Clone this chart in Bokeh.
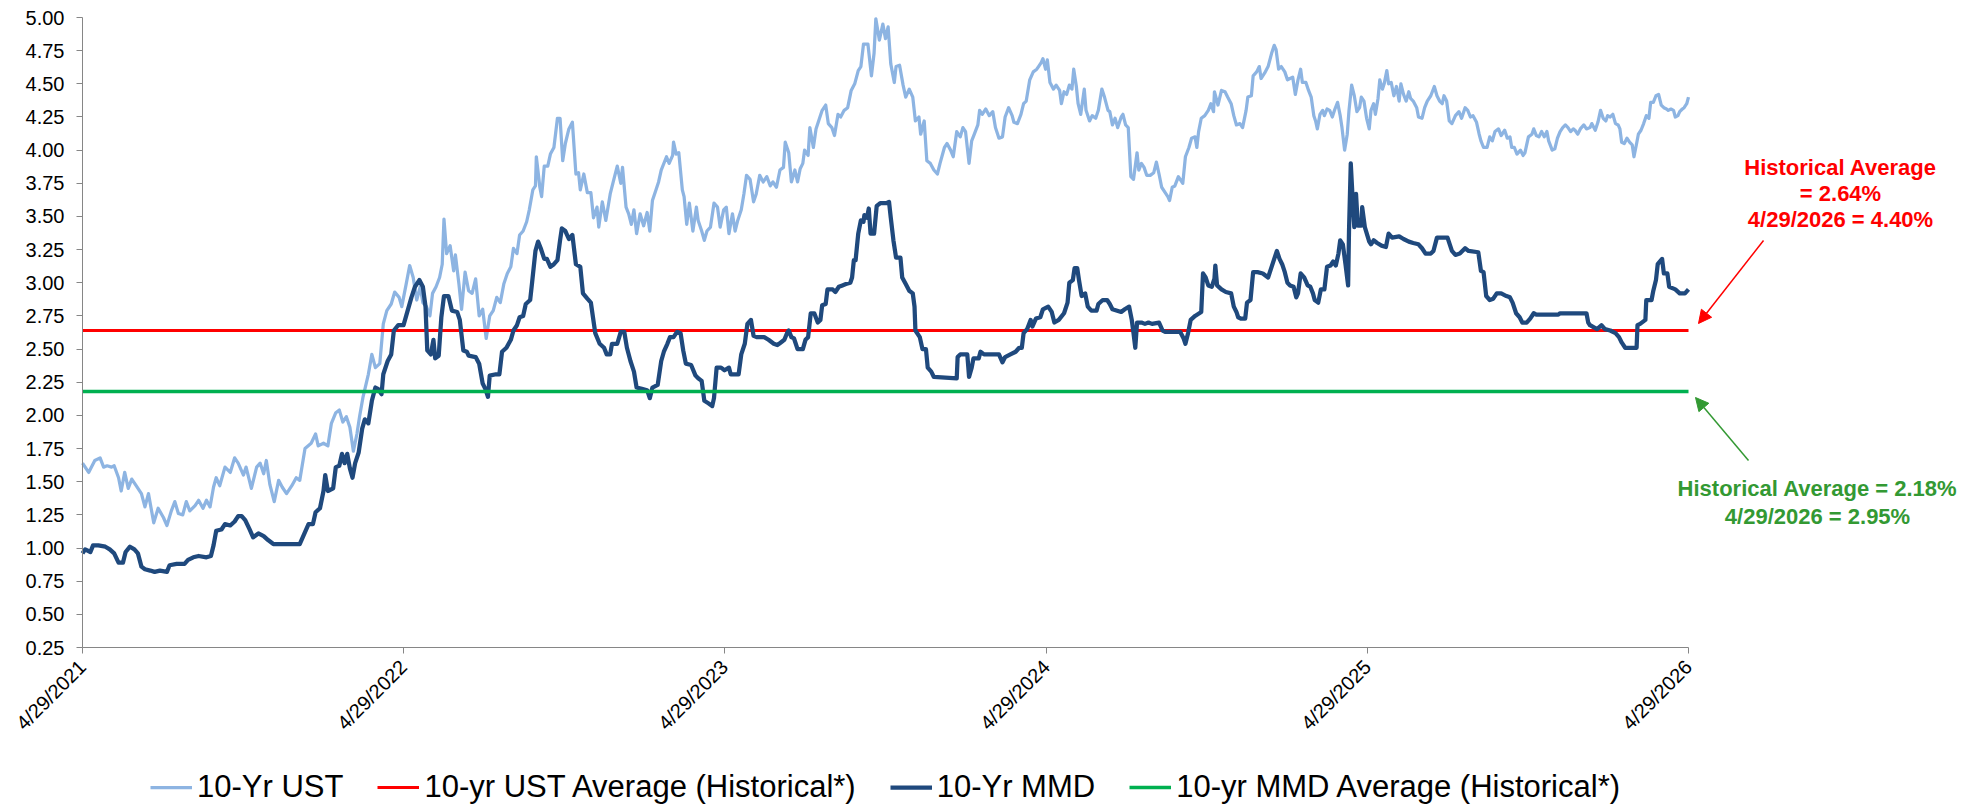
from math import pi
import pandas as pd
from bokeh.plotting import figure
from bokeh.models import (Range1d, FixedTicker, NumeralTickFormatter, CustomJSTickFormatter,
                          Legend, LegendItem, Label, Arrow, NormalHead)
from bokeh.embed import file_html
from bokeh.resources import INLINE

FONT = "Liberation Sans"

# ---------------- data ----------------
ust_dates = (
    ["2021-" + d for d in [
        "04-29", "05-06", "05-13", "05-19", "05-23", "05-27", "06-01", "06-04", "06-09", "06-12",
        "06-16", "06-20", "06-24", "06-29", "07-05", "07-09", "07-13", "07-19", "07-24", "07-30",
        "08-03", "08-08", "08-12", "08-16", "08-21", "08-25", "08-29", "09-04", "09-08", "09-13",
        "09-17", "09-21", "09-25", "09-28", "10-02", "10-08", "10-14", "10-19", "10-23", "10-29",
        "11-01", "11-07", "11-13", "11-17", "11-21", "11-24", "11-28", "12-03", "12-08", "12-12",
        "12-17", "12-23", "12-28"]]
    + ["2022-" + d for d in [
        "01-01", "01-07", "01-14", "01-19", "01-22", "01-28", "02-02", "02-06", "02-11", "02-15",
        "02-19", "02-23", "02-27", "03-03", "03-07", "03-10", "03-14", "03-20", "03-24", "03-28",
        "04-02", "04-06", "04-10", "04-15", "04-19", "04-24", "04-27", "05-02", "05-06", "05-10",
        "05-14", "05-18", "05-21", "05-25", "05-29", "06-01", "06-05", "06-09", "06-12", "06-14",
        "06-17", "06-21", "06-25", "06-27", "07-01", "07-04", "07-08", "07-12", "07-16", "07-20",
        "07-24", "07-28", "08-01", "08-05", "08-09", "08-13", "08-17", "08-21", "08-25", "08-29",
        "09-01", "09-05", "09-08", "09-12", "09-16", "09-19", "09-23", "09-26", "09-27", "10-01",
        "10-03", "10-06", "10-10", "10-13", "10-17", "10-21", "10-24", "10-27", "10-30", "11-03",
        "11-07", "11-11", "11-14", "11-16", "11-20", "11-24", "11-28", "12-01", "12-05", "12-07",
        "12-11", "12-15", "12-20", "12-23", "12-28"]]
    + ["2023-" + d for d in [
        "01-01", "01-03", "01-07", "01-10", "01-13", "01-16", "01-19", "01-23", "01-27", "01-31",
        "02-03", "02-06", "02-10", "02-13", "02-16", "02-22", "02-25", "03-01", "03-02", "03-05",
        "03-08", "03-12", "03-14", "03-17", "03-20", "03-24", "03-28", "03-30", "04-03", "04-06",
        "04-09", "04-13", "04-17", "04-21", "04-24", "04-28", "05-01", "05-04", "05-08", "05-11",
        "05-14", "05-18", "05-21", "05-24", "05-28", "06-01", "06-04", "06-08", "06-12", "06-16",
        "06-20", "06-23", "06-27", "07-01", "07-05", "07-07", "07-11", "07-14", "07-18", "07-21",
        "07-24", "07-27", "07-29", "08-02", "08-04", "08-08", "08-11", "08-15", "08-18", "08-22",
        "08-25", "08-29", "09-01", "09-05", "09-08", "09-12", "09-16", "09-20", "09-24", "09-28",
        "10-01", "10-04", "10-09", "10-13", "10-16", "10-18", "10-22", "10-26", "10-29", "11-01",
        "11-04", "11-08", "11-10", "11-14", "11-18", "11-21", "11-25", "11-29", "12-02", "12-06",
        "12-08", "12-12", "12-15", "12-19", "12-23", "12-27", "12-30"]]
    + ["2024-" + d for d in [
        "01-04", "01-07", "01-11", "01-14", "01-18", "01-22", "01-25", "01-28", "02-01", "02-04",
        "02-07", "02-11", "02-13", "02-16", "02-20", "02-24", "02-28", "03-02", "03-06", "03-10",
        "03-13", "03-17", "03-21", "03-23", "03-27", "03-31", "04-03", "04-06", "04-10", "04-14",
        "04-18", "04-20", "04-23", "04-25", "04-28", "04-30", "05-03", "05-07", "05-10", "05-14",
        "05-16", "05-19", "05-22", "05-25", "05-28", "05-30", "06-02", "06-04", "06-07", "06-11",
        "06-13", "06-17", "06-20", "06-24", "06-27", "07-01", "07-04", "07-08", "07-10", "07-13",
        "07-16", "07-19", "07-23", "07-25", "07-28", "07-31", "08-03", "08-06", "08-10", "08-12",
        "08-15", "08-18", "08-21", "08-25", "08-29", "09-01", "09-04", "09-07", "09-11", "09-14",
        "09-16", "09-19", "09-22", "09-26", "09-29", "10-01", "10-04", "10-08", "10-11", "10-15",
        "10-17", "10-19", "10-22", "10-26", "10-30", "11-02", "11-05", "11-06", "11-10", "11-14",
        "11-18", "11-21", "11-25", "11-28", "12-01", "12-05", "12-08", "12-12", "12-14", "12-18",
        "12-20", "12-24", "12-27", "12-29"]]
    + ["2025-" + d for d in [
        "01-02", "01-06", "01-10", "01-13", "01-15", "01-18", "01-21", "01-25", "01-28", "01-31",
        "02-03", "02-06", "02-09", "02-12", "02-14", "02-18", "02-21", "02-24", "02-27", "03-01",
        "03-03", "03-06", "03-09", "03-11", "03-14", "03-17", "03-20", "03-23", "03-26", "03-29",
        "03-31", "04-03", "04-06", "04-08", "04-11", "04-14", "04-17", "04-20", "04-22", "04-25",
        "04-28", "05-01", "05-03", "05-06", "05-08", "05-11", "05-13", "05-16", "05-18", "05-21",
        "05-23", "05-26", "05-29", "06-01", "06-04", "06-06", "06-09", "06-12", "06-15", "06-17",
        "06-20", "06-24", "06-26", "06-30", "07-03", "07-06", "07-10", "07-14", "07-17", "07-20",
        "07-23", "07-25", "07-28", "07-31", "08-03", "08-07", "08-11", "08-14", "08-18", "08-21",
        "08-24", "08-27", "08-31", "09-03", "09-05", "09-08", "09-12", "09-15", "09-18", "09-21",
        "09-25", "09-28", "10-02", "10-05", "10-08", "10-10", "10-13", "10-16", "10-20", "10-23",
        "10-25", "10-29", "11-02", "11-04", "11-07", "11-10", "11-13", "11-16", "11-19", "11-21",
        "11-25", "11-28", "12-01", "12-04", "12-07", "12-10", "12-13", "12-16", "12-19", "12-21",
        "12-24", "12-27", "12-31"]]
    + ["2026-" + d for d in [
        "01-03", "01-07", "01-09", "01-13", "01-16", "01-19", "01-22", "01-25", "01-27", "01-30",
        "02-02", "02-05", "02-08", "02-10", "02-12", "02-15", "02-18", "02-21", "02-24", "02-26",
        "03-01", "03-03", "03-06", "03-09", "03-12", "03-15", "03-17", "03-20", "03-23", "03-26",
        "03-29", "04-01", "04-04", "04-06", "04-09", "04-12", "04-14", "04-17", "04-19", "04-22",
        "04-24", "04-27", "04-29"]]
)
ust_values = [
    # 2021
    1.64, 1.57, 1.66, 1.68, 1.61, 1.62, 1.61, 1.62, 1.53, 1.43,
    1.57, 1.45, 1.52, 1.47, 1.41, 1.31, 1.41, 1.19, 1.30, 1.23,
    1.17, 1.28, 1.35, 1.26, 1.25, 1.35, 1.28, 1.32, 1.36, 1.30,
    1.36, 1.31, 1.46, 1.53, 1.47, 1.61, 1.57, 1.68, 1.64, 1.55,
    1.61, 1.45, 1.61, 1.64, 1.56, 1.66, 1.48, 1.35, 1.51, 1.46,
    1.41, 1.47, 1.53,
    # 2022
    1.51, 1.75, 1.79, 1.86, 1.77, 1.79, 1.77, 1.94, 2.02, 2.04,
    1.95, 1.99, 1.91, 1.73, 1.86, 1.99, 2.14, 2.31, 2.46, 2.36,
    2.39, 2.69, 2.79, 2.84, 2.93, 2.89, 2.82, 2.99, 3.13, 3.04,
    2.87, 2.97, 2.85, 2.82, 2.75, 2.92, 2.97, 3.04, 3.14, 3.48,
    3.22, 3.28, 3.09, 3.21, 2.99, 2.80, 3.08, 2.94, 2.92, 3.03,
    2.75, 2.80, 2.58, 2.75, 2.79, 2.89, 2.85, 2.99, 3.07, 3.12,
    3.26, 3.22, 3.36, 3.39, 3.46, 3.55, 3.70, 3.73, 3.95, 3.72,
    3.65, 3.88, 3.88, 3.97, 4.02, 4.24, 4.24, 3.92, 4.05, 4.16,
    4.21, 3.82, 3.83, 3.70, 3.82, 3.68, 3.68, 3.49, 3.57, 3.42,
    3.61, 3.47, 3.67, 3.75, 3.88,
    # 2023
    3.75, 3.87, 3.57, 3.52, 3.44, 3.55, 3.37, 3.52, 3.43, 3.53,
    3.39, 3.62, 3.70, 3.76, 3.85, 3.95, 3.90, 3.96, 4.06, 3.97,
    3.98, 3.70, 3.65, 3.44, 3.60, 3.39, 3.57, 3.47, 3.39, 3.32,
    3.39, 3.42, 3.60, 3.57, 3.42, 3.55, 3.57, 3.37, 3.52, 3.39,
    3.47, 3.55, 3.67, 3.81, 3.78, 3.61, 3.67, 3.81, 3.76, 3.80,
    3.73, 3.76, 3.72, 3.85, 3.87, 4.06, 3.98, 3.76, 3.85, 3.76,
    3.86, 3.90, 4.00, 3.96, 4.17, 4.02, 4.16, 4.24, 4.30, 4.34,
    4.20, 4.17, 4.11, 4.27, 4.25, 4.30, 4.32, 4.45, 4.50, 4.60,
    4.63, 4.80, 4.80, 4.56, 4.73, 4.99, 4.83, 4.95, 4.84, 4.93,
    4.65, 4.51, 4.63, 4.64, 4.49, 4.40, 4.46, 4.40, 4.22, 4.25,
    4.12, 4.22, 3.92, 3.90, 3.85, 3.82, 3.90,
    # 2024
    4.02, 4.05, 4.00, 3.95, 4.14, 4.10, 4.17, 4.14, 3.90, 4.07,
    4.12, 4.19, 4.30, 4.27, 4.31, 4.26, 4.29, 4.17, 4.09, 4.10,
    4.25, 4.32, 4.26, 4.21, 4.20, 4.27, 4.35, 4.37, 4.53, 4.59,
    4.61, 4.63, 4.66, 4.69, 4.61, 4.68, 4.51, 4.46, 4.49, 4.45,
    4.35, 4.44, 4.42, 4.49, 4.46, 4.61, 4.48, 4.35, 4.27, 4.46,
    4.30, 4.22, 4.26, 4.24, 4.30, 4.46, 4.40, 4.30, 4.29, 4.19,
    4.24, 4.17, 4.25, 4.27, 4.19, 4.17, 3.80, 3.78, 3.98, 3.85,
    3.90, 3.87, 3.81, 3.81, 3.83, 3.91, 3.82, 3.72, 3.68, 3.65,
    3.62, 3.72, 3.73, 3.80, 3.77, 3.75, 3.95, 4.02, 4.09, 4.10,
    4.02, 4.14, 4.24, 4.26, 4.30, 4.35, 4.29, 4.44, 4.34, 4.45,
    4.44, 4.40, 4.35, 4.26, 4.19, 4.20, 4.17, 4.30, 4.40, 4.41,
    4.56, 4.59, 4.63, 4.54,
    # 2025
    4.58, 4.63, 4.73, 4.79, 4.76, 4.61, 4.63, 4.59, 4.53, 4.54,
    4.55, 4.42, 4.53, 4.61, 4.51, 4.51, 4.45, 4.40, 4.26, 4.22,
    4.16, 4.27, 4.30, 4.26, 4.31, 4.30, 4.25, 4.31, 4.36, 4.26,
    4.17, 4.00, 4.12, 4.30, 4.49, 4.41, 4.29, 4.32, 4.40, 4.37,
    4.24, 4.16, 4.30, 4.35, 4.27, 4.39, 4.53, 4.46, 4.50, 4.60,
    4.50, 4.51, 4.41, 4.48, 4.37, 4.50, 4.42, 4.37, 4.44, 4.39,
    4.37, 4.32, 4.25, 4.24, 4.32, 4.37, 4.41, 4.48, 4.41, 4.37,
    4.35, 4.41, 4.37, 4.22, 4.20, 4.26, 4.29, 4.24, 4.32, 4.30,
    4.25, 4.26, 4.21, 4.12, 4.07, 4.02, 4.02, 4.10, 4.07, 4.14,
    4.16, 4.11, 4.15, 4.09, 4.10, 4.02, 4.02, 3.97, 4.00, 3.96,
    3.98, 4.10, 4.12, 4.16, 4.11, 4.10, 4.14, 4.10, 4.14, 4.07,
    4.00, 4.01, 4.09, 4.14, 4.17, 4.19, 4.17, 4.14, 4.16, 4.15,
    4.12, 4.16, 4.19,
    # 2026
    4.16, 4.17, 4.20, 4.15, 4.21, 4.30, 4.24, 4.22, 4.26, 4.25,
    4.27, 4.20, 4.19, 4.16, 4.06, 4.05, 4.09, 4.06, 4.04, 3.95,
    4.05, 4.12, 4.15, 4.20, 4.26, 4.24, 4.36, 4.36, 4.41, 4.42,
    4.34, 4.32, 4.31, 4.30, 4.31, 4.30, 4.25, 4.26, 4.29, 4.31,
    4.32, 4.35, 4.40,
]

mmd_dates = (
    ["2021-" + d for d in [
        "04-29", "05-02", "05-08", "05-11", "05-17", "05-25", "05-30", "06-04", "06-09", "06-14",
        "06-17", "06-22", "06-27", "07-01", "07-05", "07-09", "07-15", "07-20", "07-26", "08-03",
        "08-06", "08-14", "08-23", "08-27", "09-02", "09-08", "09-17", "09-22", "09-25", "09-28",
        "10-04", "10-08", "10-14", "10-19", "10-23", "10-27", "10-31", "11-05", "11-09", "11-15",
        "11-21", "11-26", "12-02"]]
    + ["2022-" + d for d in [
        "01-01", "01-07", "01-11", "01-16", "01-19", "01-24", "01-28", "01-30", "02-02", "02-08",
        "02-11", "02-15", "02-18", "02-21", "02-24", "02-27", "03-02", "03-05", "03-09", "03-13",
        "03-16", "03-20", "03-24", "03-28", "03-31", "04-04", "04-06", "04-11", "04-15", "04-18",
        "04-23", "04-29", "05-02", "05-08", "05-12", "05-17", "05-21", "05-24", "05-26", "05-30",
        "06-02", "06-04", "06-08", "06-11", "06-14", "06-19", "06-23", "06-29", "07-02", "07-06",
        "07-10", "07-12", "07-20", "07-24", "07-28", "07-31", "08-03", "08-05", "08-12", "08-16",
        "08-19", "08-24", "08-29", "09-01", "09-05", "09-08", "09-12", "09-15", "09-20", "09-22",
        "09-26", "09-29", "10-02", "10-06", "10-09", "10-13", "10-17", "10-21", "10-24", "10-26",
        "10-30", "11-03", "11-07", "11-11", "11-16", "11-19", "11-24", "11-28", "12-03", "12-08",
        "12-13", "12-16", "12-20", "12-22", "12-28"]]
    + ["2023-" + d for d in [
        "01-01", "01-05", "01-08", "01-12", "01-16", "01-19", "01-25", "01-31", "02-03", "02-06",
        "02-12", "02-16", "02-19", "02-23", "02-26", "03-02", "03-06", "03-10", "03-13", "03-16",
        "03-22", "03-27", "03-30", "04-03", "04-06", "04-11", "04-15", "04-17", "04-20", "04-25",
        "04-29", "05-04", "05-06", "05-15", "05-18", "05-22", "05-25", "05-29", "06-01", "06-05",
        "06-13", "06-18", "06-24", "06-28", "07-02", "07-06", "07-09", "07-11", "07-14", "07-17",
        "07-21", "07-27", "07-30", "08-02", "08-05", "08-09", "08-13", "08-16", "08-18", "08-22",
        "08-24", "08-30", "09-02", "09-06", "09-10", "09-14", "09-19", "09-21", "09-23", "09-25",
        "09-28", "10-01", "10-04", "10-05", "10-08", "10-10", "10-12", "10-16", "10-19", "10-23",
        "10-30", "11-02", "11-04", "11-07", "11-10", "11-15", "11-17", "11-21", "11-25", "11-29",
        "12-01", "12-02", "12-07", "12-10", "12-14", "12-16", "12-20", "12-23"]]
    + ["2024-" + d for d in [
        "01-18", "01-19", "01-22", "01-30", "02-01", "02-04", "02-06", "02-12", "02-14", "02-18",
        "03-06", "03-10", "03-13", "03-19", "03-25", "03-29", "04-01", "04-03", "04-07", "04-11",
        "04-13", "04-17", "04-22", "04-25", "05-01", "05-05", "05-08", "05-13", "05-19", "05-23",
        "05-25", "05-29", "05-31", "06-03", "06-05", "06-08", "06-12", "06-15", "06-19", "06-25",
        "06-27", "07-02", "07-07", "07-10", "07-13", "07-23", "07-27", "08-01", "08-04", "08-06",
        "08-08", "08-10", "08-15", "08-19", "08-23", "08-27", "09-04", "09-08", "09-11", "09-28",
        "10-02", "10-04", "10-07", "10-10", "10-15", "10-22", "10-24", "10-27", "10-30", "11-03",
        "11-06", "11-07", "11-09", "11-14", "11-19", "11-25", "11-28", "12-01", "12-03", "12-06",
        "12-11", "12-13", "12-17", "12-20", "12-25", "12-31"]]
    + ["2025-" + d for d in [
        "01-06", "01-10", "01-13", "01-16", "01-19", "01-22", "01-25", "01-28", "01-31", "02-04",
        "02-07", "02-09", "02-12", "02-16", "02-20", "02-23", "02-26", "02-28", "03-04", "03-07",
        "03-11", "03-14", "03-18", "03-21", "03-24", "03-27", "03-29", "04-01", "04-04", "04-07",
        "04-08", "04-10", "04-12", "04-14", "04-16", "04-18", "04-22", "04-23", "04-26", "05-01",
        "05-03", "05-06", "05-10", "05-15", "05-20", "05-23", "05-27", "06-04", "06-09", "06-15",
        "06-20", "06-26", "06-30", "07-04", "07-10", "07-13", "07-17", "07-29", "08-03", "08-07",
        "08-12", "08-18", "08-22", "09-02", "09-05", "09-08", "09-11", "09-15", "09-19", "09-23",
        "09-28", "10-04", "10-08", "10-11", "10-15", "10-19", "10-22", "10-27", "10-31", "11-04",
        "11-07", "12-02", "12-04", "12-09"]]
    + ["2026-" + d for d in [
        "01-03", "01-05", "01-07", "01-15", "01-20", "01-24", "01-30", "02-05", "02-09", "02-12",
        "02-16", "03-01", "03-02", "03-05", "03-11", "03-12", "03-18", "03-20", "03-23", "03-25",
        "03-30", "04-01", "04-05", "04-07", "04-14", "04-19", "04-25", "04-29"]]
)
mmd_values = [
    # 2021
    0.96, 0.99, 0.97, 1.02, 1.02, 1.01, 0.99, 0.96, 0.89, 0.89,
    0.97, 1.01, 0.99, 0.96, 0.86, 0.84, 0.83, 0.82, 0.83, 0.82,
    0.87, 0.88, 0.88, 0.91, 0.93, 0.94, 0.93, 0.94, 1.02, 1.13,
    1.14, 1.18, 1.17, 1.20, 1.24, 1.24, 1.21, 1.14, 1.08, 1.11,
    1.09, 1.06, 1.03,
    # 2022
    1.03, 1.12, 1.18, 1.18, 1.27, 1.30, 1.43, 1.55, 1.43, 1.45,
    1.61, 1.62, 1.71, 1.64, 1.71, 1.60, 1.53, 1.64, 1.72, 1.90,
    1.97, 1.94, 2.11, 2.21, 2.20, 2.16, 2.31, 2.41, 2.46, 2.64,
    2.68, 2.68, 2.75, 2.89, 2.97, 3.02, 2.97, 2.82, 2.49, 2.46,
    2.57, 2.43, 2.45, 2.74, 2.90, 2.90, 2.79, 2.78, 2.72, 2.49,
    2.48, 2.45, 2.44, 2.39, 2.24, 2.20, 2.14, 2.30, 2.31, 2.31,
    2.48, 2.51, 2.57, 2.64, 2.68, 2.74, 2.75, 2.84, 2.87, 2.99,
    3.24, 3.31, 3.26, 3.18, 3.18, 3.12, 3.14, 3.17, 3.32, 3.41,
    3.39, 3.33, 3.36, 3.14, 3.12, 2.92, 2.88, 2.85, 2.62, 2.54,
    2.51, 2.46, 2.46, 2.54, 2.54,
    # 2023
    2.63, 2.63, 2.51, 2.41, 2.33, 2.21, 2.20, 2.19, 2.13, 2.21,
    2.23, 2.41, 2.48, 2.54, 2.59, 2.59, 2.63, 2.62, 2.49, 2.39,
    2.38, 2.30, 2.28, 2.26, 2.11, 2.09, 2.07, 2.13, 2.36, 2.36,
    2.34, 2.36, 2.31, 2.31, 2.46, 2.54, 2.69, 2.72, 2.60, 2.59,
    2.59, 2.57, 2.54, 2.53, 2.55, 2.57, 2.62, 2.64, 2.59, 2.58,
    2.50, 2.50, 2.57, 2.59, 2.77, 2.77, 2.70, 2.72, 2.83, 2.84,
    2.95, 2.95, 2.93, 2.97, 2.98, 2.99, 3.00, 3.04, 3.17, 3.17,
    3.37, 3.47, 3.46, 3.51, 3.49, 3.56, 3.37, 3.37, 3.58, 3.60,
    3.60, 3.61, 3.49, 3.32, 3.19, 3.19, 3.04, 2.99, 2.94, 2.92,
    2.82, 2.64, 2.59, 2.50, 2.50, 2.36, 2.33, 2.29,
    # 2024
    2.28, 2.44, 2.46, 2.46, 2.29, 2.36, 2.43, 2.43, 2.48, 2.46,
    2.46, 2.40, 2.44, 2.46, 2.48, 2.51, 2.51, 2.62, 2.65, 2.72,
    2.67, 2.73, 2.74, 2.80, 2.82, 2.78, 2.70, 2.72, 2.77, 2.85,
    3.00, 3.02, 3.11, 3.11, 3.02, 2.90, 2.92, 2.82, 2.79, 2.79,
    2.84, 2.87, 2.87, 2.84, 2.80, 2.78, 2.80, 2.82, 2.72, 2.62,
    2.51, 2.70, 2.70, 2.69, 2.70, 2.69, 2.70, 2.64, 2.63, 2.63,
    2.58, 2.54, 2.62, 2.72, 2.75, 2.78, 3.07, 3.04, 2.98, 2.97,
    3.03, 3.13, 2.98, 2.95, 2.93, 2.92, 2.82, 2.78, 2.74, 2.73,
    2.73, 2.85, 2.87, 3.08, 3.08, 3.07,
    # 2025
    3.04, 3.12, 3.18, 3.24, 3.18, 3.14, 3.08, 3.00, 2.98, 2.97,
    2.89, 2.92, 3.07, 3.04, 2.98, 2.97, 2.92, 2.87, 2.85, 2.95,
    2.95, 3.12, 3.13, 3.16, 3.13, 3.22, 3.32, 3.29, 3.14, 2.98,
    3.39, 3.90, 3.65, 3.42, 3.67, 3.43, 3.43, 3.57, 3.42, 3.31,
    3.29, 3.32, 3.30, 3.28, 3.27, 3.37, 3.34, 3.35, 3.33, 3.31,
    3.30, 3.29, 3.26, 3.22, 3.22, 3.24, 3.34, 3.34, 3.24, 3.21,
    3.22, 3.26, 3.24, 3.23, 3.09, 3.08, 2.90, 2.87, 2.88, 2.92,
    2.92, 2.90, 2.89, 2.85, 2.77, 2.74, 2.70, 2.70, 2.73, 2.77,
    2.76, 2.76, 2.77, 2.77,
    # 2026
    2.77, 2.70, 2.68, 2.65, 2.68, 2.65, 2.64, 2.62, 2.59, 2.55,
    2.51, 2.51, 2.68, 2.69, 2.72, 2.87, 2.87, 2.94, 3.02, 3.14,
    3.18, 3.07, 3.07, 2.97, 2.95, 2.92, 2.92, 2.95,
]

ust_hist_avg = 2.64
mmd_hist_avg = 2.18
ust_latest = 4.40
mmd_latest = 2.95
latest_label = "4/29/2026"

x_tick_dates = ["2021-04-29", "2022-04-29", "2023-04-29", "2024-04-29", "2025-04-29", "2026-04-29"]
x_tick_labels = ["4/29/2021", "4/29/2022", "4/29/2023", "4/29/2024", "4/29/2025", "4/29/2026"]
y_ticks = [0.25, 0.50, 0.75, 1.00, 1.25, 1.50, 1.75, 2.00, 2.25, 2.50,
           2.75, 3.00, 3.25, 3.50, 3.75, 4.00, 4.25, 4.50, 4.75, 5.00]
legend_labels = ["10-Yr UST", "10-yr UST Average (Historical*)",
                 "10-Yr MMD", "10-yr MMD Average (Historical*)"]

assert len(ust_dates) == len(ust_values), (len(ust_dates), len(ust_values))
assert len(mmd_dates) == len(mmd_values), (len(mmd_dates), len(mmd_values))

# ---------------- layout ----------------
# The frame covers the whole canvas; both axes are pinned inside it (fixed_location + bounds),
# so the legend and the notes on the right lie inside the frame and are not clipped.
W, H = 1961, 805
AX_LEFT, AX_TOP = 82, 17          # pixel position of the axes' corner (top-left)
AX_W, AX_H = 1606, 630            # pixel extent of the drawn axes

ust_x = pd.to_datetime(ust_dates)
mmd_x = pd.to_datetime(mmd_dates)
tick_x = pd.to_datetime(x_tick_dates)
tick_ms = [float(t.value // 10**6) for t in tick_x]
x0, x1 = tick_ms[0], tick_ms[-1]
y0, y1 = y_ticks[0], y_ticks[-1]
px_x = (x1 - x0) / AX_W
px_y = (y1 - y0) / AX_H
x_range = Range1d(x0 - AX_LEFT * px_x, x1 + (W - AX_LEFT - AX_W) * px_x)
y_range = Range1d(y0 - (H - AX_TOP - AX_H) * px_y, y1 + AX_TOP * px_y)

p = figure(width=W, height=H, x_axis_type="datetime", x_range=x_range, y_range=y_range,
           output_backend="svg", toolbar_location=None,
           min_border_left=0, min_border_right=0, min_border_top=0, min_border_bottom=0)
p.outline_line_color = None
p.xgrid.visible = False
p.ygrid.visible = False
p.background_fill_color = "white"
p.border_fill_color = "white"

r_ust = p.line(ust_x, ust_values, line_color="#8DB4E2", line_width=3.25, line_join="round")
r_ust_avg = p.line([tick_x[0], tick_x[-1]], [ust_hist_avg, ust_hist_avg],
                   line_color="#FF0000", line_width=3)
r_mmd = p.line(mmd_x, mmd_values, line_color="#1F497D", line_width=4.25, line_join="round")
r_mmd_avg = p.line([tick_x[0], tick_x[-1]], [mmd_hist_avg, mmd_hist_avg],
                   line_color="#00B050", line_width=3.5)

for ax in (p.xaxis[0], p.yaxis[0]):
    ax.axis_line_color = "#868686"
    ax.axis_line_width = 1
    ax.major_tick_line_color = "#868686"
    ax.major_tick_out = 6
    ax.major_tick_in = 0
    ax.minor_tick_out = 0
    ax.minor_tick_in = 0
    ax.major_label_text_font = FONT
    ax.major_label_text_font_size = "20px"
    ax.major_label_text_color = "black"

p.yaxis.fixed_location = x0
p.yaxis.bounds = (y0, y1)
p.yaxis.ticker = FixedTicker(ticks=y_ticks)
p.yaxis.formatter = NumeralTickFormatter(format="0.00")
p.yaxis.major_label_standoff = 12

p.xaxis.fixed_location = y0
p.xaxis.bounds = (x0, x1)
p.xaxis.ticker = FixedTicker(ticks=tick_ms, minor_ticks=[])
p.xaxis.formatter = CustomJSTickFormatter(
    args=dict(tick_vals=tick_ms, tick_text=x_tick_labels),
    code="""
let best = 0;
for (let i = 1; i < tick_vals.length; i++) {
  if (Math.abs(tick_vals[i] - tick) < Math.abs(tick_vals[best] - tick)) best = i;
}
return tick_text[best];
""")
p.xaxis.major_label_orientation = pi / 4
p.xaxis.major_label_standoff = 10

legend = Legend(
    items=[LegendItem(label=legend_labels[0], renderers=[r_ust]),
           LegendItem(label=legend_labels[1], renderers=[r_ust_avg]),
           LegendItem(label=legend_labels[2], renderers=[r_mmd]),
           LegendItem(label=legend_labels[3], renderers=[r_mmd_avg])],
    orientation="horizontal", location=(150, 0),
    glyph_width=42, glyph_height=30, label_height=30, label_standoff=5, spacing=34,
    padding=0, margin=0, border_line_color=None, background_fill_alpha=0,
    label_text_font=FONT, label_text_font_size="31px", label_text_color="black")
p.add_layout(legend)

# notes on the right (screen units measured from the canvas' bottom-left corner)
RED = "#FF0000"
GREEN = "#339933"
red_lines = ["Historical Average", f"= {ust_hist_avg:.2f}%", f"{latest_label} = {ust_latest:.2f}%"]
green_lines = [f"Historical Average = {mmd_hist_avg:.2f}%", f"{latest_label} = {mmd_latest:.2f}%"]
for txt, yy in zip(red_lines, [638, 612, 586]):
    p.add_layout(Label(x=1840, y=yy, x_units="screen", y_units="screen", text=txt,
                       text_align="center", text_baseline="middle", text_font=FONT,
                       text_font_size="22px", text_font_style="bold", text_color=RED))
for txt, yy in zip(green_lines, [317, 289]):
    p.add_layout(Label(x=1817, y=yy, x_units="screen", y_units="screen", text=txt,
                       text_align="center", text_baseline="middle", text_font=FONT,
                       text_font_size="22px", text_font_style="bold", text_color=GREEN))

p.add_layout(Arrow(end=NormalHead(size=13, fill_color=RED, line_color=RED, line_width=1),
                   x_start=1763, y_start=565, x_end=1698, y_end=482,
                   start_units="screen", end_units="screen",
                   line_color=RED, line_width=1.5))
p.add_layout(Arrow(end=NormalHead(size=13, fill_color=GREEN, line_color=GREEN, line_width=1),
                   x_start=1748, y_start=345, x_end=1695, y_end=408,
                   start_units="screen", end_units="screen",
                   line_color=GREEN, line_width=1.5))

open("out.html", "w").write(file_html(p, INLINE))
